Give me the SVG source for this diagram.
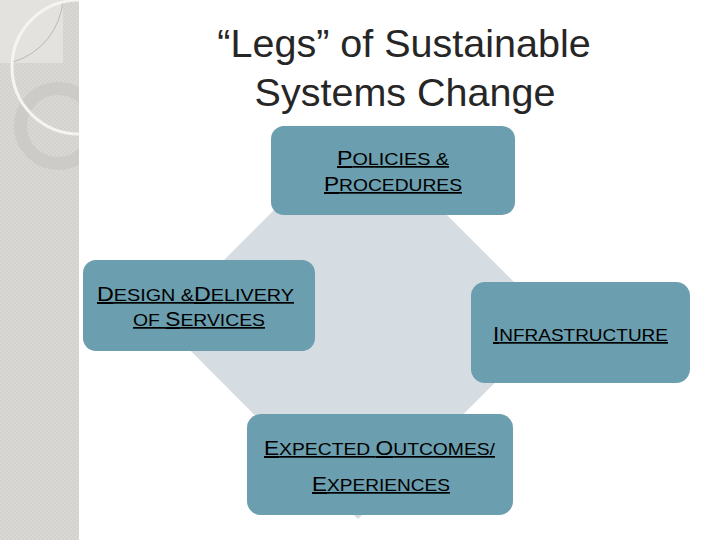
<svg xmlns="http://www.w3.org/2000/svg" width="720" height="540" viewBox="0 0 720 540">
  <defs>
    <clipPath id="strip"><rect x="0" y="0" width="79" height="540"/></clipPath>
    <pattern id="tex" width="4" height="4" patternUnits="userSpaceOnUse">
      <rect width="4" height="4" fill="#d9d8d4"/>
      <rect width="2" height="2" fill="#d3d2ce"/>
      <rect x="2" y="2" width="2" height="2" fill="#d3d2ce"/>
    </pattern>
  </defs>
  <style>
    .box { fill: #6b9eae; }
    .lbl { font-family: "Liberation Sans", Arial, sans-serif; fill: #000; text-decoration: underline; }
    .big { font-size: 20px; }
    .sm { font-size: 17px; }
    .title { font-family: "Liberation Sans", Arial, sans-serif; font-size: 39.5px; fill: #262626; text-anchor: middle; }
  </style>
  <rect x="0" y="0" width="720" height="540" fill="#ffffff"/>
  <g id="sidebar" clip-path="url(#strip)">
    <rect x="0" y="0" width="79" height="540" fill="url(#tex)"/>
    <rect x="0" y="0" width="63" height="63" fill="#e3e2df"/>
    <path d="M63,0 A70,70 0 0 1 13,62" fill="none" stroke="#b9b8b4" stroke-width="1"/>
    <circle cx="58" cy="126" r="37.5" fill="none" stroke="#cdcbc7" stroke-width="13"/>
    <circle cx="79" cy="67" r="67" fill="none" stroke="#f4f4f2" stroke-width="3"/>
  </g>
  <text class="title" x="404" y="57">“Legs” of Sustainable</text>
  <text class="title" x="405" y="106">Systems Change</text>
  <polygon id="diamond" points="358,126 555,323 358,519 162,322" fill="#d6dde2"/>
  <g id="connectors"></g>
  <g id="policies">
    <rect class="box" x="271" y="126" width="244" height="89" rx="13"/>
    <text class="lbl" x="337" y="165" textLength="112" lengthAdjust="spacingAndGlyphs"><tspan class="big">P</tspan><tspan class="sm">OLICIES &amp;</tspan></text>
    <text class="lbl" x="324" y="191" textLength="138" lengthAdjust="spacingAndGlyphs"><tspan class="big">P</tspan><tspan class="sm">ROCEDURES</tspan></text>
  </g>
  <g id="design">
    <rect class="box" x="83" y="260" width="232" height="91" rx="13"/>
    <text class="lbl" x="97" y="301" textLength="197" lengthAdjust="spacingAndGlyphs"><tspan class="big">D</tspan><tspan class="sm">ESIGN &amp;</tspan><tspan class="big">D</tspan><tspan class="sm">ELIVERY</tspan></text>
    <text class="lbl" x="133" y="326" textLength="132" lengthAdjust="spacingAndGlyphs"><tspan class="sm">OF </tspan><tspan class="big">S</tspan><tspan class="sm">ERVICES</tspan></text>
  </g>
  <g id="infrastructure">
    <rect class="box" x="471" y="282" width="219" height="101" rx="14"/>
    <text class="lbl" x="493" y="341" textLength="175" lengthAdjust="spacingAndGlyphs"><tspan class="big">I</tspan><tspan class="sm">NFRASTRUCTURE</tspan></text>
  </g>
  <g id="outcomes">
    <rect class="box" x="247" y="414" width="266" height="101" rx="14"/>
    <text class="lbl" x="264" y="455" textLength="231" lengthAdjust="spacingAndGlyphs"><tspan class="big">E</tspan><tspan class="sm">XPECTED </tspan><tspan class="big">O</tspan><tspan class="sm">UTCOMES/</tspan></text>
    <text class="lbl" x="312" y="491" textLength="138" lengthAdjust="spacingAndGlyphs"><tspan class="big">E</tspan><tspan class="sm">XPERIENCES</tspan></text>
  </g>
</svg>
